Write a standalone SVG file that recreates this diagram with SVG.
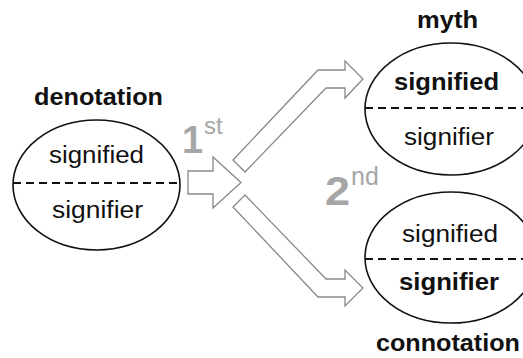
<svg xmlns="http://www.w3.org/2000/svg" width="523" height="358" viewBox="0 0 523 358">
<style>
.ell{fill:#fff;stroke:#111;stroke-width:1.6}
.dash{stroke:#111;stroke-width:2;stroke-dasharray:8 5}
.t{font-family:"Liberation Sans",Arial,sans-serif;font-size:23.5px;fill:#111;text-anchor:middle}
.b{font-weight:bold}
.arr{fill:#fff;stroke:#888;stroke-width:1.3;stroke-linejoin:miter}
.g{font-family:"Liberation Sans",Arial,sans-serif;fill:#a6a6a6}
</style>
<rect width="523" height="358" fill="#fff"/>
<g id="connectors">
<polygon class="arr" points="188,171 213,171 213,157 241,182.5 213,208 213,194 188,194"/>
<polygon class="arr" points="233,160 318,70 345,70 345,61 363,79 345,98 345,88 326,88 245,172"/>
<polygon class="arr" points="233,207 318,297 345,297 345,306 363,288 345,270 345,279 326,279 245,195"/>
<text class="g" x="182" y="153" font-size="38" font-weight="bold" textLength="21" lengthAdjust="spacingAndGlyphs">1</text>
<text class="g" x="204" y="134" font-size="24">st</text>
<text class="g" x="325" y="205" font-size="40" font-weight="bold" textLength="25" lengthAdjust="spacingAndGlyphs">2</text>
<text class="g" x="351" y="185" font-size="25">nd</text>
</g>
<g id="denotation">
<ellipse class="ell" cx="96.5" cy="185" rx="83.5" ry="65"/>
<line class="dash" x1="13" y1="183" x2="180" y2="183"/>
<text class="t b" x="98.5" y="105" textLength="129" lengthAdjust="spacingAndGlyphs">denotation</text>
<text class="t" x="96.5" y="163" textLength="95" lengthAdjust="spacingAndGlyphs">signified</text>
<text class="t" x="97.5" y="218" textLength="91" lengthAdjust="spacingAndGlyphs">signifier</text>
</g>
<g id="myth">
<ellipse class="ell" cx="451" cy="109" rx="86" ry="66"/>
<line class="dash" x1="365" y1="108" x2="523" y2="108"/>
<text class="t b" x="447.5" y="28" textLength="61" lengthAdjust="spacingAndGlyphs">myth</text>
<text class="t b" x="446.5" y="90" textLength="105" lengthAdjust="spacingAndGlyphs">signified</text>
<text class="t" x="449" y="145" textLength="90" lengthAdjust="spacingAndGlyphs">signifier</text>
</g>
<g id="connotation">
<ellipse class="ell" cx="451" cy="257.5" rx="86" ry="65.5"/>
<line class="dash" x1="365" y1="259" x2="523" y2="259"/>
<text class="t" x="450" y="242" textLength="96" lengthAdjust="spacingAndGlyphs">signified</text>
<text class="t b" x="449" y="290" textLength="100" lengthAdjust="spacingAndGlyphs">signifier</text>
<text class="t b" x="448" y="351" textLength="144" lengthAdjust="spacingAndGlyphs">connotation</text>
</g>
</svg>
